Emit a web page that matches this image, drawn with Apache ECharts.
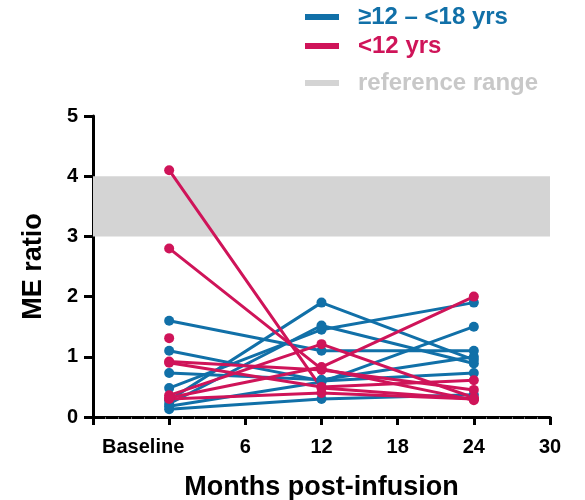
<!DOCTYPE html>
<html>
<head>
<meta charset="utf-8">
<script src="https://cdn.jsdelivr.net/npm/echarts@6/dist/echarts.min.js"></script>
<style>
html,body{margin:0;padding:0;background:#fff;}
#c{width:585px;height:500px;}
</style>
</head>
<body>
<div id="c"></div>
<script>
// ---- data ----
const months = [0, 12, 24];
const xTickLabels = { '-6': '', '0': 'Baseline', '6': '6', '12': '12', '18': '18', '24': '24', '30': '30' };
const yTickLabels = [0, 1, 2, 3, 4, 5];
const referenceRange = [3, 4];

// ≥12 – <18 yrs subjects (baseline, 12, 24 months)
const teen1 = [1.6, 1.1, 1.1];
const teen2 = [1.1, 0.6, 0.73];
const teen3 = [0.73, 0.62, 1.0];
const teen4 = [0.48, 1.45, 1.9];
const teen5 = [0.28, 1.9, 0.95];
const teen6 = [0.22, 1.52, 0.89];
const teen7 = [0.18, 0.58, 1.5];
const teen8 = [0.13, 0.30, 0.37];

// <12 yrs subjects
const child1 = [4.1, 0.48, 0.30];
const child2 = [2.8, 0.8, 0.28];
const child3 = [1.31, null, null];
const child4 = [0.92, 0.78, 0.45];
const child5 = [0.90, 0.5, 0.61];
const child6 = [0.36, 1.21, 0.32];
const child7 = [0.32, 0.83, 2.0];
const child8 = [0.30, 0.40, 0.30];

const teenGroup = [teen1, teen2, teen3, teen4, teen5, teen6, teen7, teen8];
const childGroup = [child1, child2, child3, child4, child5, child6, child7, child8];

const TEEN = '≥12 – <18 yrs';
const CHILD = '<12 yrs';
const REF = 'reference range';
const blue = '#1170a8';
const red = '#cf1459';
const gray = '#d4d4d4';
const font = 'Liberation Sans, Arial, sans-serif';

function mk(name, color, vals) {
  return {
    type: 'line', name: name, color: color,
    data: months.map((m, i) => [m, vals[i]]),
    symbol: 'circle', symbolSize: 10,
    lineStyle: { width: 3, color: color },
    itemStyle: { color: color },
    connectNulls: false, z: 3, animation: false
  };
}

const series = [];
series.push({
  type: 'line', name: REF, color: gray, data: [], animation: false,
  itemStyle: { color: gray },
  markArea: {
    silent: true, itemStyle: { color: gray },
    data: [[{ xAxis: -6, yAxis: referenceRange[0] }, { xAxis: 30, yAxis: referenceRange[1] }]]
  }
});
teenGroup.forEach(v => series.push(mk(TEEN, blue, v)));
childGroup.forEach(v => series.push(mk(CHILD, red, v)));

function legendFor(name, color, top) {
  return {
    data: [{ name: name, textStyle: { color: color } }],
    left: 305, top: top, icon: 'rect', itemWidth: 34, itemHeight: 6,
    selectedMode: false, padding: 0,
    textStyle: { fontSize: 24, fontWeight: 'bold', fontFamily: font, padding: [0, 0, 0, 14] }
  };
}

const labelStyle = { fontSize: 20, fontWeight: 'bold', fontFamily: font, color: '#000' };

const chart = echarts.init(document.getElementById('c'), null, { renderer: 'canvas' });
chart.setOption({
  backgroundColor: '#fff',
  animation: false,
  legend: [legendFor(TEEN, blue, 5), legendFor(CHILD, red, 34), legendFor(REF, '#c8c8c8', 71)],
  grid: { left: 93, right: 35, top: 116, bottom: 83, containLabel: false, outerBoundsMode: 'none' },
  xAxis: {
    type: 'value', min: -6, max: 30, interval: 6,
    name: 'Months post-infusion', nameLocation: 'middle', nameGap: 57,
    nameTextStyle: { fontSize: 27, fontWeight: 'bold', fontFamily: font, color: '#000' },
    axisLine: { onZero: false, lineStyle: { color: '#000', width: 3 } },
    axisTick: { show: true, length: 8, lineStyle: { color: '#000', width: 3 } },
    minorTick: { show: true, splitNumber: 6, length: 2, lineStyle: { color: '#777', width: 1 } },
    splitLine: { show: false },
    axisLabel: Object.assign({}, labelStyle, {
      margin: 20,
      formatter: v => {
        const s = xTickLabels[String(v)];
        if (s === undefined || s === '') return '';
        return v === 0 ? '{b|' + s + '}' : s;
      },
      rich: { b: Object.assign({}, labelStyle, { padding: [0, 52, 0, 0] }) }
    })
  },
  yAxis: {
    type: 'value', min: 0, max: 5, interval: 1,
    name: 'ME ratio', nameLocation: 'middle', nameGap: 46, nameRotate: 90,
    nameTextStyle: { fontSize: 27, fontWeight: 'bold', fontFamily: font, color: '#000' },
    axisLine: { show: true, onZero: false, lineStyle: { color: '#000', width: 3 } },
    axisTick: { show: true, length: 9, lineStyle: { color: '#000', width: 3 } },
    splitLine: { show: false },
    axisLabel: Object.assign({}, labelStyle, {
      margin: 15,
      formatter: v => yTickLabels.includes(v) ? String(v) : ''
    })
  },
  series: series
});
</script>
</body>
</html>
